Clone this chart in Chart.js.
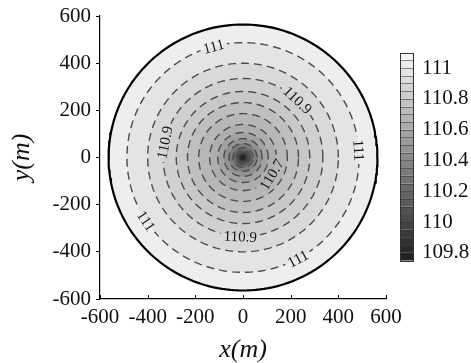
<!DOCTYPE html>
<html><head><meta charset="utf-8">
<script src="https://cdn.jsdelivr.net/npm/chart.js@4/dist/chart.umd.min.js"></script>
<style>html,body{margin:0;padding:0;background:#fff}</style>
</head><body>
<canvas id="c" width="471" height="363"></canvas>
<script>
// ---- data ----
const axisTicks = [-600, -400, -200, 0, 200, 400, 600];
const colorbarTicks = [109.8, 110, 110.2, 110.4, 110.6, 110.8, 111];
const colorbarMin = 109.75;
const colorbarMax = 111.1;
const colorbarStep = 0.05;
const boundaryRadius = 564;
const contourLevels = [111, 110.95, 110.9, 110.85, 110.8, 110.75, 110.7, 110.65, 110.6, 110.55, 110.5, 110.45, 110.4];
const contourRadii  = [487, 400, 335, 280, 233, 186, 140, 106, 80, 59, 42, 30, 21];
const fillRadii  = [564, 487, 400, 335, 280, 233, 186, 140, 106, 80, 59, 42, 30, 21, 15, 11, 7, 4];
const fillValues = [111.04, 110.976, 110.91, 110.85, 110.80, 110.75, 110.70, 110.64, 110.57, 110.47, 110.33, 110.21, 110.08, 109.97, 109.89, 109.82, 109.79, 109.76];
const labelTexts  = ['111', '110.9', '111', '110.9', '110.7', '111', '110.9', '111'];
const labelLevels = [111, 110.9, 111, 110.9, 110.7, 111, 110.9, 111];
const labelAngles = [104.7, 46.7, 3.6, 169, -31, -146.5, -92, -61.8];

const SERIF = '"Liberation Serif", "DejaVu Serif", serif';

function grayOf(v) {
  const t = Math.max(0, Math.min(1, (v - colorbarMin) / (colorbarMax - colorbarMin)));
  const g = Math.round(30 + t * 218);
  return `rgb(${g},${g},${g})`;
}
function circle(r) {
  const pts = [];
  const n = 200;
  for (let i = 0; i <= n; i++) {
    const a = i / n * 2 * Math.PI;
    pts.push({x: r * Math.cos(a), y: r * Math.sin(a)});
  }
  return pts;
}
function labelGeom(chart, i) {
  const xs = chart.scales.x, ys = chart.scales.y;
  const li = contourLevels.indexOf(labelLevels[i]);
  const r = contourRadii[li];
  const a = labelAngles[i] * Math.PI / 180;
  const px = xs.getPixelForValue(r * Math.cos(a));
  const py = ys.getPixelForValue(r * Math.sin(a));
  let rot = Math.atan2(-Math.cos(a), -Math.sin(a));
  if (rot > Math.PI / 2) rot -= Math.PI;
  if (rot <= -Math.PI / 2) rot += Math.PI;
  return {px, py, rot};
}

const datasets = contourLevels.map((lv, i) => ({
  label: String(lv),
  data: circle(contourRadii[i]),
  showLine: true,
  borderColor: '#4c4c4c',
  borderWidth: 1.4,
  borderDash: [8, 5],
  pointRadius: 0,
  fill: false,
  tension: 0
}));
datasets.push({
  label: 'boundary',
  data: circle(boundaryRadius),
  showLine: true,
  borderColor: '#000',
  borderWidth: 2.2,
  pointRadius: 0,
  fill: false,
  tension: 0
});

const LABEL_FONT = '15px ' + SERIF;

const contourPlugin = {
  id: 'contour',
  beforeDatasetsDraw(chart) {
    const ctx = chart.ctx, xs = chart.scales.x, ys = chart.scales.y;
    const cx = xs.getPixelForValue(0), cy = ys.getPixelForValue(0);
    ctx.save();
    for (let i = 0; i < fillRadii.length; i++) {
      const rx = xs.getPixelForValue(fillRadii[i]) - cx;
      const ry = cy - ys.getPixelForValue(fillRadii[i]);
      ctx.beginPath();
      ctx.ellipse(cx, cy, rx, ry, 0, 0, Math.PI * 2);
      ctx.fillStyle = grayOf(fillValues[i]);
      ctx.fill();
    }
    ctx.restore();
    // clip out label boxes so dashes break around labels
    ctx.save();
    ctx.font = LABEL_FONT;
    ctx.beginPath();
    ctx.rect(0, 0, chart.width, chart.height);
    for (let i = 0; i < labelTexts.length; i++) {
      const g = labelGeom(chart, i);
      const w = ctx.measureText(labelTexts[i]).width / 2 + 3, h = 7;
      const c = Math.cos(g.rot), s = Math.sin(g.rot);
      const pts = [[-w, -h], [w, -h], [w, h], [-w, h]].map(([u, v]) => [g.px + u * c - v * s, g.py + u * s + v * c]);
      ctx.moveTo(pts[0][0], pts[0][1]);
      for (let k = 1; k < 4; k++) ctx.lineTo(pts[k][0], pts[k][1]);
      ctx.closePath();
    }
    ctx.clip('evenodd');
  },
  afterDatasetsDraw(chart) {
    const ctx = chart.ctx;
    ctx.restore();
    ctx.save();
    ctx.font = LABEL_FONT;
    ctx.fillStyle = '#151515';
    ctx.textAlign = 'center';
    ctx.textBaseline = 'middle';
    for (let i = 0; i < labelTexts.length; i++) {
      const g = labelGeom(chart, i);
      ctx.save();
      ctx.translate(g.px, g.py);
      ctx.rotate(g.rot);
      ctx.fillText(labelTexts[i], 0, 1);
      ctx.restore();
    }
    ctx.restore();
  },
  afterDraw(chart) {
    const ctx = chart.ctx, xs = chart.scales.x, cs = chart.scales.c;
    ctx.save();
    // inward x ticks
    ctx.strokeStyle = '#000';
    ctx.lineWidth = 1;
    const b = chart.chartArea.bottom;
    xs.ticks.forEach(t => {
      const px = Math.round(xs.getPixelForValue(t.value)) + 0.5;
      ctx.beginPath();
      ctx.moveTo(px, b);
      ctx.lineTo(px, b - 4);
      ctx.stroke();
    });
    // colorbar
    const x0 = cs.left + 14, w = 13;
    const n = Math.round((colorbarMax - colorbarMin) / colorbarStep);
    for (let k = 0; k < n; k++) {
      const v0 = colorbarMin + k * colorbarStep, v1 = v0 + colorbarStep;
      const y0 = cs.getPixelForValue(v1), y1 = cs.getPixelForValue(v0);
      ctx.fillStyle = grayOf((v0 + v1) / 2);
      ctx.fillRect(x0, y0, w, y1 - y0);
    }
    ctx.strokeStyle = 'rgba(50,50,50,0.55)';
    ctx.lineWidth = 1;
    for (let k = 1; k < n; k++) {
      const y = Math.round(cs.getPixelForValue(colorbarMin + k * colorbarStep)) + 0.5;
      ctx.beginPath();
      ctx.moveTo(x0, y);
      ctx.lineTo(x0 + w, y);
      ctx.stroke();
    }
    ctx.strokeStyle = '#333';
    const yt = cs.getPixelForValue(colorbarMax), yb = cs.getPixelForValue(colorbarMin);
    ctx.strokeRect(x0 + 0.5, Math.round(yt) + 0.5, w, Math.round(yb - yt));
    ctx.restore();
  }
};

const tickFont = {family: SERIF, size: 21};
const titleFont = {family: SERIF, size: 26, style: 'italic', lineHeight: 1};
const noVPad = s => { s.paddingTop = 0; s.paddingBottom = 0; };

new Chart(document.getElementById('c'), {
  type: 'scatter',
  data: {datasets},
  options: {
    responsive: false,
    animation: false,
    devicePixelRatio: 1,
    layout: {padding: {top: 16, left: 0, right: 0, bottom: 0}},
    plugins: {legend: {display: false}, tooltip: {enabled: false}},
    scales: {
      x: {
        type: 'linear', position: 'bottom', min: -600, max: 600,
        afterBuildTicks: s => { s.ticks = axisTicks.map(v => ({value: v})); },
        afterFit: s => { s.height = 64; s.paddingLeft = 0; s.paddingRight = 0; },
        grid: {drawOnChartArea: false, drawTicks: false},
        border: {color: '#000', width: 1.2},
        ticks: {padding: 6, font: tickFont, color: '#111', maxRotation: 0, autoSkip: false},
        title: {display: true, text: 'x(m)', font: titleFont, color: '#111', padding: {top: 0, bottom: 0}}
      },
      y: {
        type: 'linear', position: 'left', min: -600, max: 600,
        afterBuildTicks: s => { s.ticks = axisTicks.map(v => ({value: v})); },
        afterFit: s => { s.width = 100; noVPad(s); },
        grid: {drawOnChartArea: false, drawTicks: true, tickLength: 4, color: '#000'},
        border: {color: '#000', width: 1.2},
        ticks: {padding: 5, font: tickFont, color: '#111', autoSkip: false},
        title: {display: true, text: 'y(m)', font: titleFont, color: '#111', padding: {top: 9, bottom: 0}}
      },
      c: {
        type: 'linear', position: 'right', min: 109.5, max: 111.338,
        afterBuildTicks: s => { s.ticks = colorbarTicks.map(v => ({value: v})); },
        afterFit: s => { s.width = 85; noVPad(s); },
        grid: {display: false, drawTicks: false},
        border: {display: false},
        ticks: {padding: 36, font: tickFont, color: '#111', autoSkip: false,
                callback: v => String(+(+v).toFixed(1))}
      }
    }
  },
  plugins: [contourPlugin]
});
</script>
</body></html>
